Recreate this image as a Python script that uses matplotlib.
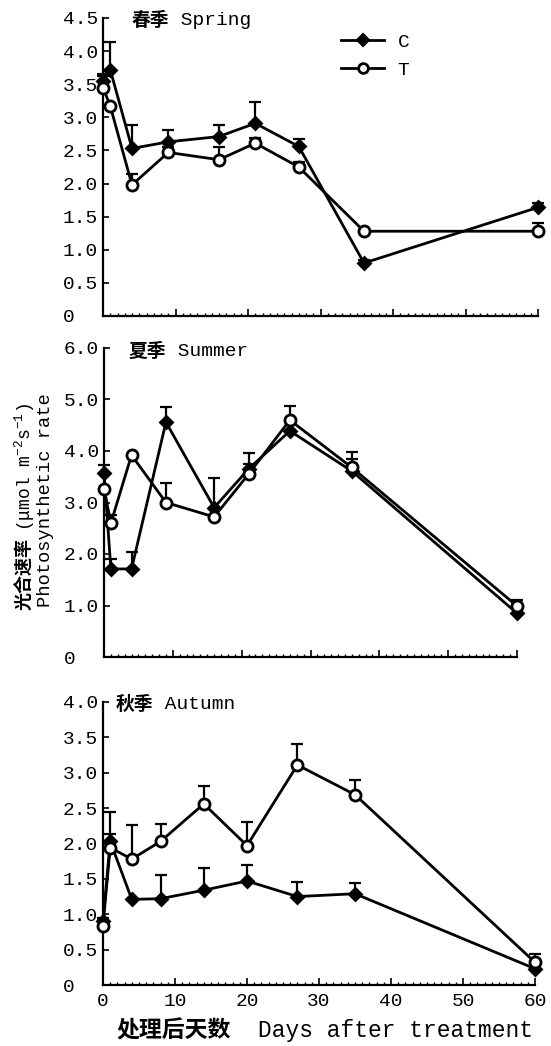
import matplotlib
matplotlib.use("Agg")
import matplotlib.pyplot as plt
import numpy as np
from matplotlib.ticker import MultipleLocator, FuncFormatter
from matplotlib.lines import Line2D

plt.rcParams['font.family'] = ['Liberation Mono', 'Noto Sans CJK SC', 'DejaVu Sans']
plt.rcParams['mathtext.fontset'] = 'custom'
plt.rcParams['mathtext.rm'] = 'Liberation Mono'

# ---------------- data ----------------
days_spring = [0, 1, 4, 9, 16, 21, 27, 36, 60]
spring_C = [3.55, 3.72, 2.53, 2.63, 2.71, 2.91, 2.56, 0.80, 1.64]
spring_T = [3.45, 3.17, 1.98, 2.47, 2.36, 2.61, 2.25, 1.28, 1.28]
spring_C_err = [0.10, 0.42, 0.35, 0.18, 0.18, 0.32, 0.12, 0.05, 0.06]
spring_T_err = [0.18, 0.0, 0.17, 0.08, 0.19, 0.08, 0.08, 0.0, 0.12]

days_summer = [0, 1, 4, 9, 16, 21, 27, 36, 60]
summer_C = [3.58, 1.71, 1.71, 4.56, 2.90, 3.65, 4.39, 3.61, 0.85]
summer_T = [3.27, 2.60, 3.92, 3.00, 2.72, 3.55, 4.60, 3.68, 0.99]
summer_C_err = [0.14, 0.20, 0.32, 0.30, 0.57, 0.32, 0.20, 0.38, 0.20]
summer_T_err = [0.0, 0.15, 0.0, 0.37, 0.0, 0.20, 0.28, 0.16, 0.12]

days_autumn = [0, 1, 4, 8, 14, 20, 27, 35, 60]
autumn_C = [0.90, 2.03, 1.21, 1.22, 1.34, 1.47, 1.25, 1.29, 0.23]
autumn_T = [0.84, 1.94, 1.78, 2.03, 2.56, 1.97, 3.11, 2.69, 0.32]
autumn_C_err = [0.05, 0.10, 0.0, 0.33, 0.31, 0.23, 0.20, 0.15, 0.10]
autumn_T_err = [0.08, 0.50, 0.48, 0.24, 0.25, 0.34, 0.30, 0.21, 0.12]

season_cn = ["春季", "夏季", "秋季"]
season_en = ["Spring", "Summer", "Autumn"]
series_names = ["C", "T"]
x_ticks = [0, 10, 20, 30, 40, 50, 60]

# ---------------- layout ----------------
W, H = 551, 1046
fig = plt.figure(figsize=(W / 100, H / 100), dpi=100)

def px_axes(left, right, top, bottom):
    return fig.add_axes([left / W, 1 - bottom / H, (right - left) / W, (bottom - top) / H])

panels = [
    dict(rect=(103, 538, 18, 316), days=days_spring, C=spring_C, T=spring_T,
         Ce=spring_C_err, Te=spring_T_err, ymax=4.5, ystep=0.5, title_x=0.065),
    dict(rect=(104, 517, 348, 657), days=days_summer, C=summer_C, T=summer_T,
         Ce=summer_C_err, Te=summer_T_err, ymax=6.0, ystep=1.0, title_x=0.06),
    dict(rect=(103, 535, 702, 985), days=days_autumn, C=autumn_C, T=autumn_T,
         Ce=autumn_C_err, Te=autumn_T_err, ymax=4.0, ystep=0.5, title_x=0.03),
]

def yfmt(v, pos):
    return "0" if abs(v) < 1e-9 else f"{v:.1f}"

axes = []
for i, p in enumerate(panels):
    ax = px_axes(*p['rect'])
    axes.append(ax)
    x = np.array(p['days'])
    for key, ekey, mk, fc, ms in (("C", "Ce", "D", "black", 6.5), ("T", "Te", "o", "white", 8)):
        y = np.array(p[key])
        e = np.array(p[ekey])
        m = e > 0
        ax.errorbar(x[m], y[m], yerr=[np.zeros(m.sum()), e[m]], fmt='none',
                    ecolor='black', elinewidth=1.6, capsize=4, capthick=1.6,
                    clip_on=False, zorder=2)
        ax.plot(x, y, color='black', lw=2.0, marker=mk, markersize=ms,
                markerfacecolor=fc, markeredgecolor='black', markeredgewidth=2.0,
                clip_on=False, zorder=3)
    ax.set_xlim(0, 60)
    ax.set_ylim(0, p['ymax'])
    for s in ('top', 'right'):
        ax.spines[s].set_visible(False)
    for s in ('left', 'bottom'):
        ax.spines[s].set_linewidth(1.6)
    ax.set_yticks(np.arange(0, p['ymax'] + 1e-6, p['ystep']))
    ax.yaxis.set_major_formatter(FuncFormatter(yfmt))
    ax.set_xticks(x_ticks)
    ax.xaxis.set_minor_locator(MultipleLocator(1))
    ax.tick_params(axis='y', direction='in', length=4, width=1.2, labelsize=14, pad=29)
    ax.tick_params(axis='x', which='major', direction='in', length=5, width=1.2,
                   labelsize=14, pad=6)
    ax.tick_params(axis='x', which='minor', direction='in', length=2.5, width=1.0)
    for lab in ax.get_yticklabels():
        lab.set_horizontalalignment('left')
    if i < 2:
        ax.tick_params(axis='x', labelbottom=False)
    t1 = ax.text(p['title_x'], 0.99, season_cn[i], transform=ax.transAxes,
                 fontfamily='Noto Sans CJK SC', fontweight='bold', fontsize=13.5,
                 va='center', ha='left')
    ax.annotate(" " + season_en[i], xy=(1, 0.5), xycoords=t1, va='center', ha='left',
                fontfamily='Liberation Mono', fontsize=14)

# legend in spring panel
handles = [
    Line2D([], [], color='black', lw=2.0, marker='D', markersize=6.5,
           markerfacecolor='black', markeredgewidth=1.5),
    Line2D([], [], color='black', lw=2.0, marker='o', markersize=7,
           markerfacecolor='white', markeredgewidth=2.0),
]
axes[0].legend(handles, series_names, loc='upper left', bbox_to_anchor=(0.53, 0.975),
               frameon=False, handlelength=2.2, fontsize=14, labelspacing=0.55,
               handletextpad=0.7, borderaxespad=0)

# y label (two lines, rotated)
fig.text(25 / W, 1 - 610 / H, "光合速率", rotation=90, ha='center', va='bottom',
         fontfamily='Noto Sans CJK SC', fontweight='bold', fontsize=13)
fig.text(25 / W, 1 - 531 / H, "(μmol m$^{-2}$s$^{-1}$)", rotation=90, ha='center',
         va='bottom', fontfamily='Liberation Mono', fontsize=13)
fig.text(46 / W, 1 - 500 / H, "Photosynthetic rate", rotation=90, ha='center',
         va='center', fontfamily='Liberation Mono', fontsize=13.5)

# x label
fig.text(116 / W, 1 - 1031 / H, "处理后天数", ha='left', va='center',
         fontfamily='Noto Sans CJK SC', fontweight='bold', fontsize=16.5)
fig.text(258 / W, 1 - 1031 / H, "Days after treatment", ha='left', va='center',
         fontfamily='Liberation Mono', fontsize=16.5)

fig.savefig("out.png", dpi=100, facecolor='white')
